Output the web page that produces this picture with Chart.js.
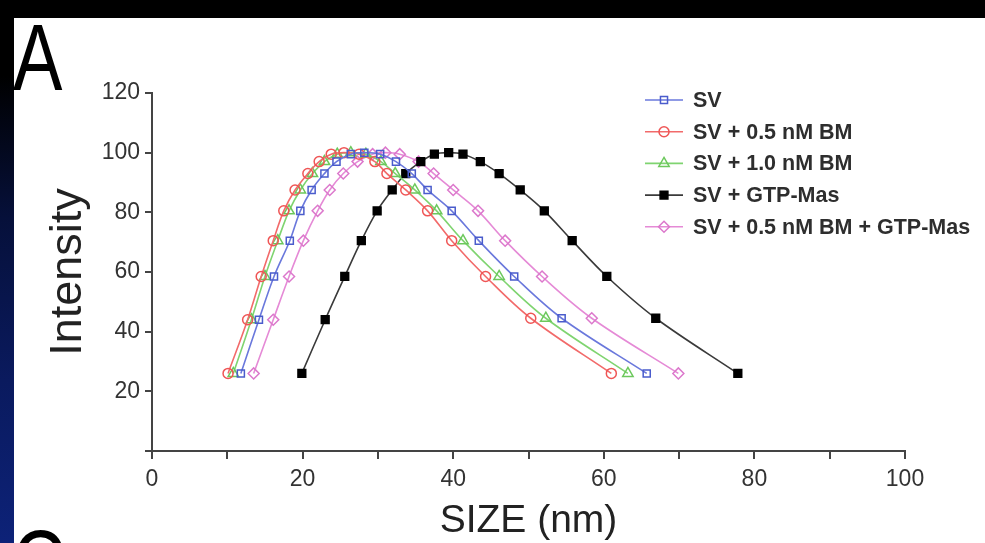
<!DOCTYPE html>
<html>
<head>
<meta charset="utf-8">
<script src="https://cdn.jsdelivr.net/npm/chart.js@4/dist/chart.umd.min.js"></script>
<style>
  html, body { margin:0; padding:0; width:985px; height:543px; overflow:hidden; background:#ffffff; }
  #topband { position:absolute; left:0; top:0; width:985px; height:18px; background:#000; }
  #leftband { position:absolute; left:0; top:0; width:14px; height:543px;
    background:linear-gradient(#000 0%, #000 14%, #06103a 40%, #0a1a5e 70%, #0d2278 100%); }
  #wrap { position:absolute; left:0; top:0; width:985px; height:543px; }
  .panel { position:absolute; font-family:"Liberation Sans", Arial, sans-serif; color:#000;
    font-size:95px; line-height:1; transform:scaleX(0.78); transform-origin:left top; }
</style>
</head>
<body>
<div id="topband"></div>
<div id="leftband"></div>
<div class="panel" style="left:13px; top:10px;">A</div>
<div class="panel" style="left:12px; top:516px;">C</div>
<div id="wrap"><canvas id="c" width="985" height="543"></canvas></div>
<script>
// ---- data ----
const seriesNames = ["SV", "SV + 0.5 nM BM", "SV + 1.0 nM BM", "SV + GTP-Mas", "SV + 0.5 nM BM + GTP-Mas"];
const intensity = [26, 44, 58.5, 70.5, 80.5, 87.5, 93, 97, 99.5, 100, 99.5, 97, 93, 87.5, 80.5, 70.5, 58.5, 44.5, 26];
const sizeSV       = [11.8, 14.2, 16.2, 18.3, 19.7, 21.2, 22.9, 24.5, 26.4, 28.2, 30.3, 32.4, 34.5, 36.6, 39.8, 43.4, 48.1, 54.4, 65.7];
const sizeBM05     = [10.1, 12.7, 14.5, 16.1, 17.5, 19.0, 20.7, 22.2, 23.8, 25.5, 27.5, 29.6, 31.2, 33.7, 36.6, 39.8, 44.3, 50.3, 61.0];
const sizeBM10     = [10.8, 13.2, 15.0, 16.7, 18.2, 19.7, 21.3, 22.9, 24.6, 26.4, 28.4, 30.4, 32.3, 34.9, 37.8, 41.3, 46.1, 52.3, 63.2];
const sizeGTP      = [19.9, 23.0, 25.6, 27.8, 29.9, 31.9, 33.7, 35.7, 37.5, 39.4, 41.3, 43.6, 46.1, 48.9, 52.1, 55.8, 60.4, 66.9, 77.8];
const sizeBMGTP    = [13.5, 16.1, 18.2, 20.1, 22.0, 23.6, 25.4, 27.3, 29.3, 31.0, 32.9, 35.4, 37.4, 40.0, 43.3, 46.9, 51.8, 58.4, 69.9];
const xTicks = [0, 20, 40, 60, 80, 100];
const yTicks = [20, 40, 60, 80, 100, 120];

const FONT = '"Liberation Sans", Arial, sans-serif';
const styles = [
  { line:'#6a78dc', point:'#4a5ccc', fill:'rgba(255,255,255,0)', shape:'rect', r:5 },
  { line:'#f26a6a', point:'#ef5555', fill:'rgba(255,255,255,0)', shape:'circle', r:5 },
  { line:'#7fd470', point:'#6cc85c', fill:'rgba(255,255,255,0)', shape:'triangle', r:6 },
  { line:'#3a3a3a', point:'#000000', fill:'#000000', shape:'rect', r:5.5 },
  { line:'#e58ad6', point:'#dc78cc', fill:'rgba(255,255,255,0)', shape:'rectRot', r:5.5 }
];
const sizes = [sizeSV, sizeBM05, sizeBM10, sizeGTP, sizeBMGTP];

const datasets = seriesNames.map((name, i) => ({
  label: name,
  data: sizes[i].map((x, k) => ({ x: x, y: intensity[k] })),
  showLine: true,
  borderColor: styles[i].line,
  borderWidth: 1.6,
  tension: 0.35,
  pointStyle: styles[i].shape,
  pointRadius: styles[i].r,
  pointBorderColor: styles[i].point,
  pointBackgroundColor: styles[i].fill,
  pointBorderWidth: 1.5,
  clip: false
}));

function drawMarker(ctx, st, x, y) {
  ctx.save();
  ctx.strokeStyle = st.point; ctx.fillStyle = st.fill; ctx.lineWidth = 1.5;
  const r = st.r;
  ctx.beginPath();
  if (st.shape === 'circle') { ctx.arc(x, y, r, 0, Math.PI*2); }
  else if (st.shape === 'rect') { const s = r*Math.SQRT1_2*2; ctx.rect(x - s/2, y - s/2, s, s); }
  else if (st.shape === 'rectRot') { ctx.moveTo(x, y-r); ctx.lineTo(x+r, y); ctx.lineTo(x, y+r); ctx.lineTo(x-r, y); ctx.closePath(); }
  else if (st.shape === 'triangle') {
    ctx.moveTo(x, y - r); ctx.lineTo(x + r*0.866, y + r*0.5); ctx.lineTo(x - r*0.866, y + r*0.5); ctx.closePath();
  }
  ctx.fill(); ctx.stroke();
  ctx.restore();
}

const legendPlugin = {
  id: 'lineLegend',
  afterDraw(chart) {
    const ctx = chart.ctx;
    ctx.save();
    seriesNames.forEach((name, i) => {
      const y = 100 + i * 31.7;
      ctx.strokeStyle = styles[i].line; ctx.lineWidth = 1.6;
      ctx.beginPath(); ctx.moveTo(645, y); ctx.lineTo(683, y); ctx.stroke();
      drawMarker(ctx, styles[i], 664, y);
      ctx.fillStyle = '#2e2e2e';
      ctx.font = 'bold 21.5px ' + FONT;
      ctx.textBaseline = 'middle';
      ctx.textAlign = 'left';
      ctx.fillText(name, 693, y + 1);
    });
    ctx.restore();
  }
};

new Chart(document.getElementById('c'), {
  type: 'scatter',
  data: { datasets },
  plugins: [legendPlugin],
  options: {
    responsive: false,
    animation: false,
    layout: { padding: { left: 0, top: 93, right: 80, bottom: 0 } },
    plugins: { legend: { display: false }, tooltip: { enabled: false } },
    scales: {
      x: {
        type: 'linear', min: 0, max: 100,
        afterFit(s) { s.height = 92; },
        afterBuildTicks(s) { s.ticks = Array.from({length: 11}, (_, k) => ({ value: k * 10 })); },
        ticks: {
          callback: v => xTicks.includes(v) ? String(v) : '',
          autoSkip: false, maxRotation: 0,
          color: '#333', padding: 9,
          font: { family: FONT, size: 23, lineHeight: 1 }
        },
        border: { display: true, color: '#444', width: 2 },
        grid: { display: true, drawOnChartArea: false, drawTicks: true, tickLength: 8, color: '#444', lineWidth: 2 },
        title: { display: true, text: 'SIZE (nm)', color: '#222',
          font: { family: FONT, size: 39, lineHeight: 1 }, padding: { top: 0, bottom: 2 } }
      },
      y: {
        type: 'linear', min: 0, max: 120,
        afterFit(s) { s.width = 152; },
        ticks: {
          stepSize: 20,
          callback: v => yTicks.includes(v) ? String(v) : '',
          color: '#333', padding: 5,
          font: { family: FONT, size: 23, lineHeight: 1 }
        },
        border: { display: true, color: '#444', width: 2 },
        grid: { display: true, drawOnChartArea: false, drawTicks: true, tickLength: 7, color: '#444', lineWidth: 2 },
        title: { display: true, text: 'Intensity', color: '#222',
          font: { family: FONT, size: 45, lineHeight: 1 }, padding: { top: 46, bottom: 0 } }
      }
    }
  }
});
</script>
</body>
</html>
